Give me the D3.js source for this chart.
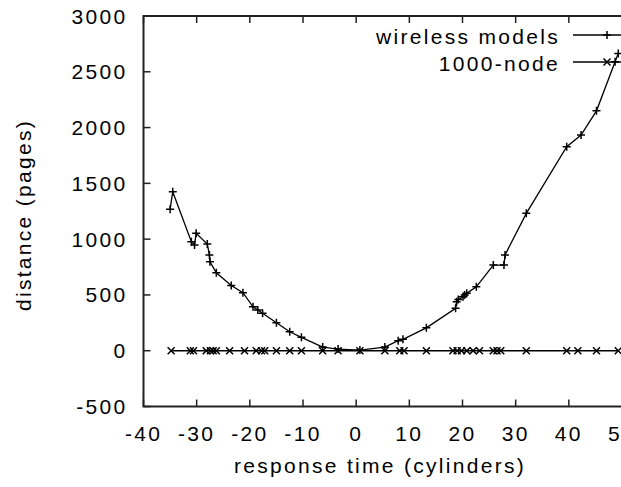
<!DOCTYPE html>
<html>
<head>
<meta charset="utf-8">
<script src="https://cdn.jsdelivr.net/npm/d3@7"></script>
<style>
  body { margin: 0; background: #fff; }
  text { font-family: "Liberation Sans", Arial, sans-serif; font-size: 21px; letter-spacing: 2.3px; fill: #000; }
</style>
</head>
<body>
<div id="chart"></div>
<script>
// wireless models (the curve)
var wirelessX = [-35.0, -34.5, -31.0, -30.4, -30.1, -28.0, -27.6, -27.5, -26.3, -23.5, -21.3, -19.4, -18.5, -17.6, -15.0, -12.5, -10.3, -6.3, -3.4, 0.7, 5.4, 7.9, 8.8, 13.2, 18.7, 18.9, 19.2, 20.1, 20.4, 20.8, 22.6, 25.8, 27.8, 28.0, 32.0, 39.6, 42.3, 45.2, 48.7, 49.3];
var wirelessY = [1267, 1425, 977, 947, 1052, 956, 857, 797, 699, 585, 520, 394, 365, 335, 251, 170, 120, 33, 15, 6, 33, 90, 102, 205, 380, 439, 460, 484, 499, 514, 573, 768, 768, 858, 1231, 1828, 1933, 2150, 2590, 2665];

// 1000-node (flat at zero)
var nodeX = [-34.8, -31.2, -30.6, -28.2, -27.4, -26.9, -26.3, -23.8, -21.0, -18.8, -17.8, -17.2, -15.0, -12.5, -10.3, -6.3, -3.4, 0.7, 5.4, 8.2, 9.0, 13.2, 18.2, 19.0, 19.8, 20.8, 22.0, 23.2, 25.8, 26.5, 27.2, 32.0, 39.6, 41.7, 45.2, 49.3];
var nodeY = [0, 0, 0, 0, 0, 0, 0, 0, 0, 0, 0, 0, 0, 0, 0, 0, 0, 0, 0, 0, 0, 0, 0, 0, 0, 0, 0, 0, 0, 0, 0, 0, 0, 0, 0, 0];

var xTicks = [-40, -30, -20, -10, 0, 10, 20, 30, 40, 50];
var yTicks = [-500, 0, 500, 1000, 1500, 2000, 2500, 3000];
var seriesNames = ["wireless models", "1000-node"];

var W = 621, H = 487;
var margin = {left: 143.5, top: 16, right: -1, bottom: 80.5};
var w = W - margin.left - margin.right, h = H - margin.top - margin.bottom;

var svg = d3.select('#chart').append('svg')
    .attr('width', W).attr('height', H);
var g = svg.append('g')
    .attr('transform', 'translate(' + margin.left + ',' + margin.top + ')');

var x = d3.scaleLinear().domain([-40, 50]).range([0, w]);
var y = d3.scaleLinear().domain([-500, 3000]).range([h, 0]);

var tickLen = 7;
var frameColor = '#222';

// ticks (inward, mirrored on top)
g.selectAll('.xt').data(xTicks).enter().append('line')
    .attr('x1', d => x(d)).attr('x2', d => x(d))
    .attr('y1', h).attr('y2', h - tickLen)
    .attr('stroke', frameColor).attr('stroke-width', 1.5);
g.selectAll('.xtt').data(xTicks).enter().append('line')
    .attr('x1', d => x(d)).attr('x2', d => x(d))
    .attr('y1', 0).attr('y2', tickLen)
    .attr('stroke', frameColor).attr('stroke-width', 1.5);
g.selectAll('.yt').data(yTicks).enter().append('line')
    .attr('x1', 0).attr('x2', tickLen)
    .attr('y1', d => y(d)).attr('y2', d => y(d))
    .attr('stroke', frameColor).attr('stroke-width', 1.5);

// frame
g.append('rect')
    .attr('x', 0).attr('y', 0).attr('width', w).attr('height', h)
    .attr('fill', 'none').attr('stroke', frameColor).attr('stroke-width', 2);

// tick labels
g.selectAll('.xl').data(xTicks).enter().append('text')
    .attr('x', d => x(d)).attr('y', h + 34)
    .attr('text-anchor', 'middle')
    .text(d => d);
g.selectAll('.yl').data(yTicks).enter().append('text')
    .attr('x', -16).attr('y', d => y(d) + 7.5)
    .attr('text-anchor', 'end')
    .text(d => d);

// axis titles
svg.append('text')
    .attr('x', 380).attr('y', 473)
    .attr('text-anchor', 'middle')
    .text('response time (cylinders)');
svg.append('text')
    .attr('transform', 'translate(31,215) rotate(-90)')
    .attr('text-anchor', 'middle')
    .text('distance (pages)');

// markers
function plus(sel, s) {
  sel.append('path').attr('d', 'M' + (-s) + ',0H' + s + 'M0,' + (-s) + 'V' + s)
    .attr('stroke', '#000').attr('stroke-width', 1.5).attr('fill', 'none');
}
function cross(sel, s) {
  sel.append('path').attr('d', 'M' + (-s) + ',' + (-s) + 'L' + s + ',' + s + 'M' + (-s) + ',' + s + 'L' + s + ',' + (-s))
    .attr('stroke', '#000').attr('stroke-width', 1.5).attr('fill', 'none');
}

var line = d3.line().x(d => x(d[0])).y(d => y(d[1]));
var wireless = wirelessX.map((d, i) => [d, wirelessY[i]]);
var node = nodeX.map((d, i) => [d, nodeY[i]]);

g.append('path').datum(node).attr('d', line)
    .attr('fill', 'none').attr('stroke', '#000').attr('stroke-width', 1.5);
g.selectAll('.nm').data(node).enter().append('g')
    .attr('transform', d => 'translate(' + x(d[0]) + ',' + y(d[1]) + ')')
    .each(function() { cross(d3.select(this), 3.5); });

g.append('path').datum(wireless).attr('d', line)
    .attr('fill', 'none').attr('stroke', '#000').attr('stroke-width', 1.3);
g.selectAll('.wm').data(wireless).enter().append('g')
    .attr('transform', d => 'translate(' + x(d[0]) + ',' + y(d[1]) + ')')
    .each(function() { plus(d3.select(this), 4); });

// legend
var legY = [35, 62];
seriesNames.forEach(function(name, i) {
  svg.append('text')
      .attr('x', 560).attr('y', legY[i] + 9)
      .attr('text-anchor', 'end')
      .text(name);
  svg.append('line')
      .attr('x1', 573).attr('x2', 640)
      .attr('y1', legY[i]).attr('y2', legY[i])
      .attr('stroke', '#000').attr('stroke-width', 1.5);
  var m = svg.append('g').attr('transform', 'translate(607,' + legY[i] + ')');
  if (i == 0) plus(m, 4); else cross(m, 3.5);
});
</script>
</body>
</html>
